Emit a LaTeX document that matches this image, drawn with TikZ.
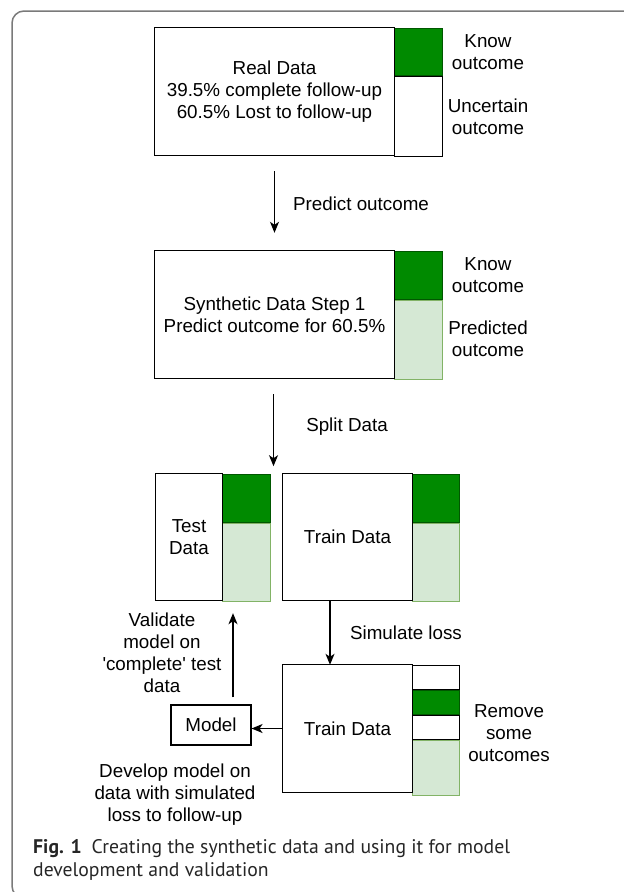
\documentclass[tikz,border=0pt]{standalone}
\usepackage{fontspec}
\setmainfont{Liberation Sans}
\newfontfamily\capfont{PT Sans}
\usetikzlibrary{arrows.meta, positioning, calc}

\definecolor{framegrey}{HTML}{7A7A7A}
\definecolor{knowfill}{HTML}{008A00}
\definecolor{knowline}{HTML}{005700}
\definecolor{predfill}{HTML}{D5E8D4}
\definecolor{predline}{HTML}{82B366}

\begin{document}
\begin{tikzpicture}[x=1pt, y=-1pt,
    font=\fontsize{18.8}{22}\selectfont,
    every node/.style={align=center, inner sep=0pt},
    box/.style 2 args={minimum width=#1, minimum height=#2},
    strip/.style 2 args={draw, line width=1.1pt, minimum width=#1, minimum height=#2, anchor=north west},
    known/.style={fill=knowfill, draw=knowline},
    predicted/.style={fill=predfill, draw=predline},
    arr/.style={-{Stealth[length=11pt, width=9pt, inset=3pt]}, line width=1.2pt}]

\useasboundingbox (0,0) rectangle (624,892);
\clip (0,0) rectangle (624,892);
\draw[framegrey, line width=1.5pt, rounded corners=12pt] (12,11) rectangle (660,898);

% real data
\node[box={239pt}{127pt}] (real) at (274.5,91.5) {Real Data\\39.5\% complete follow-up\\60.5\% Lost to follow-up};
\node[strip={48pt}{47pt}, known] (realknown) at (real.north east) {};
\node[strip={48pt}{80pt}] (realunc) at (realknown.south west) {};
\node (realknowlbl) at (488,52.5) {Know\\outcome};
\node (realunclbl) at (488,117) {Uncertain\\outcome};

% synthetic data
\node[box={239pt}{127pt}] (synth) at (274.5,314.5) {Synthetic Data Step 1\\Predict outcome for 60.5\%};
\node[strip={48pt}{48pt}, known] (synthknown) at (synth.north east) {};
\node[strip={48pt}{79pt}, predicted] (synthpred) at (synthknown.south west) {};
\node (synthknowlbl) at (488,275.5) {Know\\outcome};
\node (synthpredlbl) at (488,339) {Predicted\\outcome};

% split into test and train
\node[box={66pt}{126pt}] (test) at (189,537) {Test\\Data};
\node[strip={48pt}{48pt}, known] (testknown) at (test.north east) {};
\node[strip={48pt}{78pt}, predicted] (testpred) at (testknown.south west) {};

\node[box={129pt}{126pt}] (train) at (347.5,537) {Train Data};
\node[strip={47pt}{48pt}, known] (trainknown) at (train.north east) {};
\node[strip={47pt}{78pt}, predicted] (trainpred) at (trainknown.south west) {};

% train data with simulated loss
\node[box={129pt}{127pt}] (trainloss) at (347.5,728.5) {Train Data};
\node[strip={47pt}{24pt}] (lossa) at (trainloss.north east) {};
\node[strip={47pt}{24pt}, known] (lossb) at (lossa.south west) {};
\node[strip={47pt}{24pt}] (lossc) at (lossb.south west) {};
\node[strip={47pt}{55pt}, predicted] (lossd) at (lossc.south west) {};
\node (removelbl) at (509,733) {Remove\\some\\outcomes};

\foreach \b in {real, synth, test, train, trainloss}
    \draw[line width=1.1pt] (\b.north west) rectangle (\b.south east);

\node[draw, line width=1.1pt, minimum width=80pt, minimum height=40pt] (model) at (211,725) {Model};

% connectors
\coordinate (splitend) at ($(synth.south)+(-1,88)$);
\coordinate (losscol) at (330,0);
\coordinate (validcol) at (233,0);

\draw[arr, shorten <=16pt, shorten >=18pt] (real.south) -- (synth.north);
\draw[arr, shorten <=16pt] (synth.south -| splitend) -- (splitend);
\draw[arr] (train.south -| losscol) -- (trainloss.north -| losscol);
\draw[arr] (trainloss.west) -- (trainloss.west -| model.east);
\draw[arr, shorten <=7pt, shorten >=13pt] (model.north -| validcol) -- (test.south -| validcol);

\node (predictlbl) at (361,204) {Predict outcome};
\node (splitlbl) at (347,427) {Split Data};
\node (simlbl) at (406,633) {Simulate loss};
\node (validlbl) at (162,653) {Validate\\model on\\\textquotesingle complete\textquotesingle\ test\\data};
\node (developlbl) at (175,795) {Develop model on\\data with simulated\\loss to follow-up};

% caption
\node[anchor=west, align=left, text=black!85, font=\capfont\fontsize{19.7}{23}\selectfont] (caption) at (33,859.5)
    {\textbf{Fig. 1}\enspace Creating the synthetic data and using it for model\\development and validation};
\end{tikzpicture}
\end{document}
